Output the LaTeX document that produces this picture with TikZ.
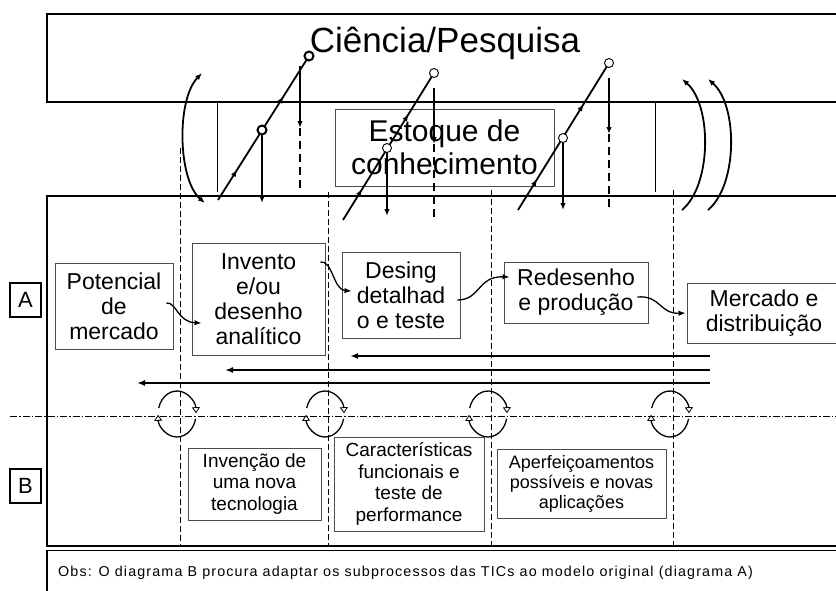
\documentclass[tikz,border=0pt]{standalone}
\usepackage{fontspec}
\setmainfont{Liberation Sans}
\newfontfamily\obsfont[LetterSpace=8]{Liberation Sans}
\usetikzlibrary{arrows.meta,calc,decorations.markings}
\begin{document}
\begin{tikzpicture}[x=1pt,y=1pt,
  thickframe/.style={line width=2.2pt},
  box/.style={draw=black!70, line width=0.9pt, align=center, inner sep=0pt},
  fA/.style={font=\fontsize{23}{25}\selectfont},
  fB/.style={font=\fontsize{19}{21.5}\selectfont},
  lbl/.style={draw, line width=1.6pt, minimum width=31, minimum height=34, inner sep=0pt, font=\fontsize{22}{24}\selectfont},
  arrtip/.style={-{Latex[length=7pt,width=5.5pt]}},
  sarrow/.style={line width=1.3pt, arrtip},
  fb/.style={line width=2pt, -{Latex[length=8pt,width=6pt]}},
  diag/.style={line width=1.8pt, postaction={decorate}, decoration={markings,
     mark=at position 0.21 with {\arrow{Latex[length=7pt,width=5.5pt]}},
     mark=at position 0.72 with {\arrow{Latex[length=7pt,width=5.5pt]}}}},
  vdown/.style={line width=1.5pt, arrtip},
  thdash/.style={line width=2pt, dash pattern=on 8pt off 5pt},
  guide/.style={line width=0.7pt, dash pattern=on 6pt off 3pt},
  dashdot/.style={line width=0.7pt, dash pattern=on 7pt off 2pt on 1.5pt off 2pt},
  knob/.style={circle, draw, fill=white, inner sep=0pt, minimum size=9pt, line width=0.9pt},
  knobB/.style={knob, line width=2pt},
  curv/.style={line width=1.8pt},
  looparc/.style={line width=1.3pt, -{Triangle[length=6pt,width=8pt,fill=white,line width=0.8pt]}},
]
\useasboundingbox (0,0) rectangle (836,-590);
\clip (0,0) rectangle (836,-590);

% frames
\draw[thickframe] (850,-14) -- (47,-14) -- (47,-102) -- (850,-102);
\draw[thickframe] (850,-196) -- (47,-196) -- (47,-546) -- (850,-546);
\draw[line width=1.6pt] (850,-550.5) -- (47,-550.5) -- (47,-600);

\node[anchor=base, font=\fontsize{35}{40}\selectfont] (sci) at (445,-52) {Ciência/Pesquisa};

\draw[line width=0.8pt] (217,-103) -- (217,-192);
\draw[line width=0.8pt] (655,-103) -- (655,-192);

\node[box, minimum width=219, minimum height=77, font=\fontsize{30}{33}\selectfont] (est) at (444.5,-147.5) {Estoque de\\conhecimento};

% guides
\draw[guide] (180,-148) -- (180,-546);
\draw[guide] (328,-192) -- (328,-546);
\draw[guide] (491,-190) -- (491,-546);
\draw[guide] (673,-190) -- (673,-546);
\draw[dashdot] (10,-416) -- (836,-416);

% labels
\node[lbl] (A) at (25.5,-300) {A};
\node[lbl] (B) at (25.5,-486) {B};

% A nodes
\node[box, fA, minimum width=118, minimum height=86] (pot) at (114,-306) {Potencial\\de\\mercado};
\node[box, fA, minimum width=133, minimum height=112] (inv) at (258.5,-299) {Invento\\e/ou\\desenho\\analítico};
\node[box, fA, minimum width=118, minimum height=86] (des) at (401,-295) {Desing\\detalhad\\o e teste};
\node[box, fA, minimum width=144, minimum height=61] (red) at (576,-292.5) {Redesenho\\e produção};
\node[box, fA, minimum width=154, minimum height=60] (merc) at (764,-313) {Mercado e\\distribuição};

% B nodes
\node[box, fB, minimum width=133, minimum height=72] (b1) at (254.5,-484) {Invenção de\\uma nova\\tecnologia};
\node[box, fB, minimum width=150, minimum height=94] (b2) at (409,-484) {Características\\funcionais e\\teste de\\performance};
\node[box, font=\fontsize{18}{20}\selectfont, minimum width=169, minimum height=69] (b3) at (581.5,-483.5) {Aperfeiçoamentos\\possíveis e novas\\aplicações};

% S connectors
\draw[sarrow] ($(pot.east)+(-7,3)$) .. controls +(10,1) and +(-24,1) .. ($(inv.west)+(10,-24)$);
\draw[sarrow] ($(inv.east)+(-5,37)$) .. controls +(12,2) and +(-18,1) .. ($(des.west)+(10,4)$);
\draw[sarrow] ($(des.east)+(-3,-5)$) .. controls +(23,0) and +(-32,1) .. ($(red.west)+(6,15.5)$);
\draw[sarrow] ($(red.east)+(-11,-4.5)$) .. controls +(23,2) and +(-26,-1) .. ($(merc.west)+(-1,0)$);

% feedback arrows
\coordinate (f1s) at (710,-356); \coordinate (f1e) at (350,-356);
\coordinate (f2s) at (710,-370); \coordinate (f2e) at (225,-370);
\coordinate (f3s) at (710,-383); \coordinate (f3e) at (137,-383);
\draw[fb] (f1s) -- (f1e);
\draw[fb] (f2s) -- (f2e);
\draw[fb] (f3s) -- (f3e);

% curved arrows
\draw[curv, {Latex[length=7pt,width=5.5pt]}-{Latex[length=7pt,width=5.5pt]}] (205,-203) .. controls (178,-180) and (176,-100) .. (202,-73);
\draw[curv, arrtip] (682,-210) .. controls (712,-185) and (712,-105) .. (682,-79);
\draw[curv, arrtip] (708,-210) .. controls (738,-185) and (738,-105) .. (708,-79);

% diagonal 1
\coordinate (d1s) at (218,-200); \coordinate (d1m) at (262,-130); \coordinate (d1e) at (309,-56);
\coordinate (v1b) at (262,-203);
\coordinate (u1a) at (300,-66); \coordinate (u1b) at (300,-128); \coordinate (u1c) at (300,-192);
\draw[diag] (d1s) -- (d1e);
\draw[vdown] (d1m) -- (v1b);
\draw[vdown] (u1a) -- (u1b);
\draw[thdash] (u1b) -- (u1c);
\node[knobB] (k1a) at (d1m) {};
\node[knobB] (k1b) at (d1e) {};

% diagonal 2
\coordinate (d2s) at (343,-220); \coordinate (d2m) at (387,-148); \coordinate (d2e) at (434,-73);
\coordinate (v2b) at (387,-216);
\coordinate (u2a) at (434,-88); \coordinate (u2b) at (434,-144); \coordinate (u2c) at (434,-220);
\draw[diag] (d2s) -- (d2e);
\draw[vdown] (d2m) -- (v2b);
\draw[vdown] (u2a) -- (u2b);
\draw[thdash] (u2b) -- (u2c);
\node[knob] (k2a) at (d2m) {};
\node[knob] (k2b) at (d2e) {};

% diagonal 3
\coordinate (d3s) at (518,-210); \coordinate (d3m) at (563,-138); \coordinate (d3e) at (609,-63);
\coordinate (v3b) at (563,-210);
\coordinate (u3a) at (609,-78); \coordinate (u3b) at (609,-134); \coordinate (u3c) at (609,-208);
\draw[diag] (d3s) -- (d3e);
\draw[vdown] (d3m) -- (v3b);
\draw[vdown] (u3a) -- (u3b);
\draw[thdash] (u3b) -- (u3c);
\node[knob] (k3a) at (d3m) {};
\node[knob] (k3b) at (d3e) {};

% loops
\foreach \cx in {177,325,488,670}{
  \draw[looparc] (\cx,-414) ++(165:19 and 23) arc[start angle=165,end angle=2,x radius=19,y radius=23];
  \draw[looparc] (\cx,-414) ++(-12:19 and 23) arc[start angle=-12,end angle=-178,x radius=19,y radius=23];
}

\node[anchor=west, inner sep=0pt, font=\obsfont\fontsize{14.3}{16}\selectfont] (obs) at (58,-573) {Obs: O diagrama B procura adaptar os subprocessos das TICs ao modelo original (diagrama A)};
\end{tikzpicture}
\end{document}
